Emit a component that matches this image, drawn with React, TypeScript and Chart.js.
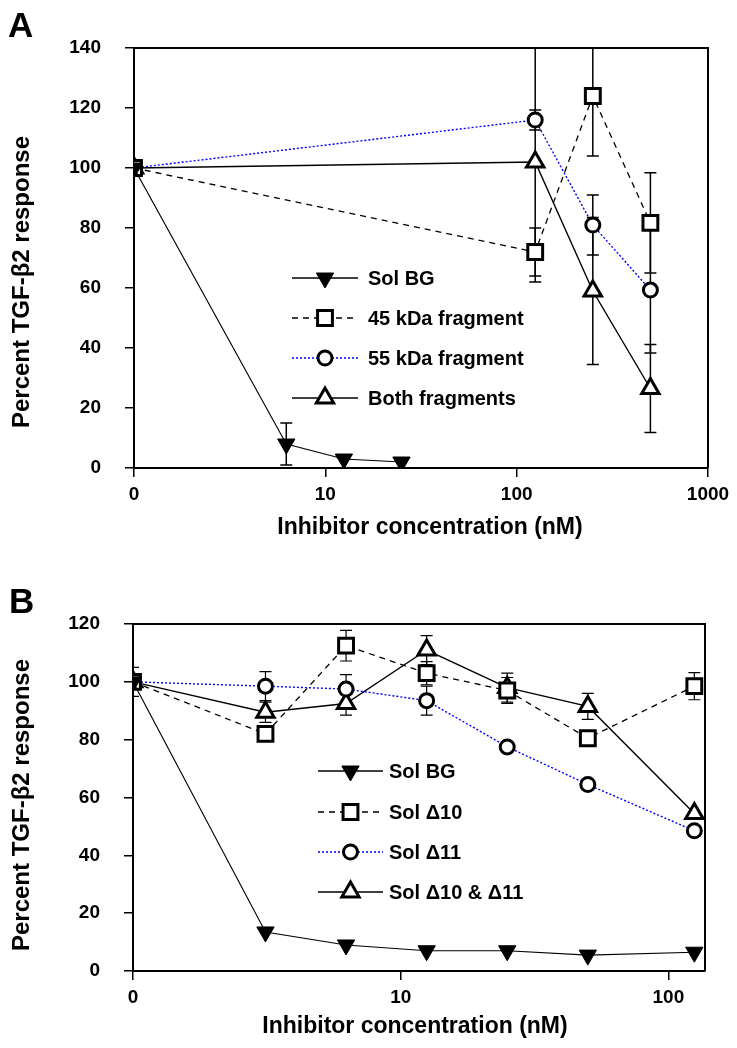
import React, { useEffect, useRef } from 'react';
import { Chart, registerables } from 'chart.js';

Chart.register(...registerables);

const FONT = '"Liberation Sans", Arial, Helvetica, sans-serif';

// ---------- Panel A data ----------
const concA_BG = [0, 6.25, 12.5, 25];
const solBG_A = [100, 8, 3, 2];
const solBG_A_err = [0, 7, 0, 0];
const concA_frag = [0, 125, 250, 500];
const kDa45_A = [100, 72, 124, 81.7];
const kDa45_A_err = [0, 8, 20, 16.7];
const kDa55_A = [100, 116, 81, 59.3];
const kDa55_A_err = [0, 3.3, 10, 21];
const both_A = [100, 102, 59, 26.5];
const both_A_err = [0, 40, 24.5, 14.7];
const seriesNamesA = ['Sol BG', '45 kDa fragment', '55 kDa fragment', 'Both fragments'];
const xTickValuesA = [0, 10, 100, 1000];
const xTickLabelsA = ['0', '10', '100', '1000'];

// ---------- Panel B data ----------
const concB = [0, 3.125, 6.25, 12.5, 25, 50, 125];
const solBG_B = [100, 13.5, 9, 7, 7, 5.5, 6.5];
const solBG_B_err = [0, 0, 0, 0, 0, 0, 0];
const d10_B = [100, 82, 112.5, 103, 97, 80.5, 98.5];
const d10_B_err = [5, 2, 5.3, 4, 4.5, 0, 4.7];
const d11_B = [100, 98.5, 97.5, 93.5, 77.5, 64.5, 48.5];
const d11_B_err = [0, 5, 5, 5, 0, 0, 0];
const d1011_B = [100, 89.5, 92.5, 111, 98, 91.5, 54.5];
const d1011_B_err = [0, 3.5, 4, 5, 5, 4.5, 0];
const seriesNamesB = ['Sol BG', 'Sol \u039410', 'Sol \u039411', 'Sol \u039410 & \u039411'];
const xTickValuesB = [0, 10, 100];
const xTickLabelsB = ['0', '10', '100'];

const ZERO_AT = 1; // position on log axis where concentration 0 is drawn

const STYLE_BG = { pointStyle: 'triangle', rotation: 180, radius: 10, fill: '#000', border: '#000', borderWidth: 1, line: '#000', lineWidth: 1.1, dash: [] as number[] };
const STYLE_SQ = { pointStyle: 'rect', rotation: 0, radius: 10.5, fill: '#fff', border: '#000', borderWidth: 3, line: '#000', lineWidth: 1.3, dash: [6, 5] };
const STYLE_CI = { pointStyle: 'circle', rotation: 0, radius: 7, fill: '#fff', border: '#000', borderWidth: 3, line: '#0000ff', lineWidth: 1.4, dash: [2, 2] };
const STYLE_TR = { pointStyle: 'triangle', rotation: 0, radius: 10, fill: '#fff', border: '#000', borderWidth: 3, line: '#000', lineWidth: 1.4, dash: [] as number[] };

function toPoints(xs: number[], ys: number[]) {
  return xs.map((x, i) => ({ x: x === 0 ? ZERO_AT : x, y: ys[i] }));
}

function makeDataset(label: string, xs: number[], ys: number[], errs: number[], st: any) {
  return {
    label,
    data: toPoints(xs, ys),
    errors: errs,
    borderColor: st.line,
    borderWidth: st.lineWidth,
    borderDash: st.dash,
    tension: 0,
    fill: false,
    pointStyle: st.pointStyle,
    pointRotation: st.rotation,
    pointRadius: st.radius,
    pointHoverRadius: st.radius,
    pointBackgroundColor: st.fill,
    pointBorderColor: st.border,
    pointBorderWidth: st.borderWidth,
    markerStyle: st,
  };
}

function drawMarker(ctx: CanvasRenderingContext2D, st: any, x: number, y: number) {
  const r = st.radius;
  ctx.save();
  ctx.lineWidth = st.borderWidth;
  ctx.strokeStyle = st.border;
  ctx.fillStyle = st.fill;
  ctx.setLineDash([]);
  ctx.beginPath();
  if (st.pointStyle === 'rect') {
    const s = r * Math.SQRT1_2;
    ctx.rect(x - s, y - s, 2 * s, 2 * s);
  } else if (st.pointStyle === 'circle') {
    ctx.arc(x, y, r, 0, Math.PI * 2);
  } else {
    let rad = (st.rotation * Math.PI) / 180;
    ctx.moveTo(x + Math.sin(rad) * r, y - Math.cos(rad) * r);
    rad += (2 * Math.PI) / 3;
    ctx.lineTo(x + Math.sin(rad) * r, y - Math.cos(rad) * r);
    rad += (2 * Math.PI) / 3;
    ctx.lineTo(x + Math.sin(rad) * r, y - Math.cos(rad) * r);
    ctx.closePath();
  }
  ctx.fill();
  ctx.stroke();
  ctx.restore();
}

const framePlugin = {
  id: 'frame',
  afterDraw(chart: any) {
    const { ctx, chartArea } = chart;
    ctx.save();
    ctx.strokeStyle = '#000';
    ctx.lineWidth = 2;
    ctx.beginPath();
    ctx.moveTo(chartArea.left, chartArea.top);
    ctx.lineTo(chartArea.right, chartArea.top);
    ctx.lineTo(chartArea.right, chartArea.bottom);
    ctx.stroke();
    ctx.restore();
  },
};

function makeErrorPlugin(lineWidth: number, cap: number) {
  return {
    id: 'errorBars',
    beforeDatasetsDraw(chart: any) {
      const { ctx, chartArea, scales } = chart;
      ctx.save();
      ctx.beginPath();
      ctx.rect(chartArea.left, chartArea.top, chartArea.right - chartArea.left, chartArea.bottom - chartArea.top + 12);
      ctx.clip();
      ctx.strokeStyle = '#000';
      ctx.lineWidth = lineWidth;
      ctx.setLineDash([]);
      chart.data.datasets.forEach((ds: any) => {
        const errs = ds.errors || [];
        ds.data.forEach((p: any, j: number) => {
          const e = errs[j];
          if (!e) return;
          const px = scales.x.getPixelForValue(p.x);
          const yTop = scales.y.getPixelForValue(p.y + e);
          const yBot = scales.y.getPixelForValue(p.y - e);
          ctx.beginPath();
          ctx.moveTo(px, yTop);
          ctx.lineTo(px, yBot);
          ctx.moveTo(px - cap, yTop);
          ctx.lineTo(px + cap, yTop);
          ctx.moveTo(px - cap, yBot);
          ctx.lineTo(px + cap, yBot);
          ctx.stroke();
        });
      });
      ctx.restore();
    },
  };
}

function makeLegendPlugin(lineX0: number, lineX1: number, textX: number, rowYs: number[]) {
  return {
    id: 'sketchLegend',
    afterDraw(chart: any) {
      const { ctx } = chart;
      chart.data.datasets.forEach((ds: any, i: number) => {
        const st = ds.markerStyle;
        const y = rowYs[i];
        ctx.save();
        ctx.strokeStyle = st.line;
        ctx.lineWidth = Math.max(st.lineWidth, 1.5);
        ctx.setLineDash(st.dash);
        ctx.beginPath();
        ctx.moveTo(lineX0, y);
        ctx.lineTo(lineX1, y);
        ctx.stroke();
        ctx.restore();
        drawMarker(ctx, st, (lineX0 + lineX1) / 2, y);
        ctx.save();
        ctx.fillStyle = '#000';
        ctx.font = `bold 20px ${FONT}`;
        ctx.textAlign = 'left';
        ctx.textBaseline = 'middle';
        ctx.fillText(ds.label, textX, y + 1);
        ctx.restore();
      });
    },
  };
}

function makeTextPlugin(letter: string, letterX: number, letterY: number, yTitle: string, yTitleX: number, yTitleY: number, xTitle: string, xTitleX: number, xTitleY: number) {
  return {
    id: 'sketchTexts',
    afterDraw(chart: any) {
      const { ctx } = chart;
      ctx.save();
      ctx.fillStyle = '#000';
      ctx.font = `bold 35px ${FONT}`;
      ctx.textAlign = 'left';
      ctx.textBaseline = 'alphabetic';
      ctx.fillText(letter, letterX, letterY);
      ctx.font = `bold 23px ${FONT}`;
      ctx.textAlign = 'center';
      ctx.textBaseline = 'middle';
      ctx.fillText(xTitle, xTitleX, xTitleY);
      ctx.font = `bold 24px ${FONT}`;
      ctx.translate(yTitleX, yTitleY);
      ctx.rotate(-Math.PI / 2);
      ctx.fillText(yTitle, 0, 0);
      ctx.restore();
    },
  };
}

function buildConfig(p: any) {
  const tickFont = { family: FONT, size: 19, weight: 'bold' as const };
  return {
    type: 'line' as const,
    data: { datasets: p.datasets },
    plugins: [framePlugin, makeErrorPlugin(p.errLine, p.cap), makeLegendPlugin(p.legX0, p.legX1, p.legText, p.legRows), p.texts],
    options: {
      responsive: false,
      animation: false,
      events: [],
      layout: { padding: { left: 0, top: p.padTop, right: p.padRight, bottom: 0 } },
      plugins: { legend: { display: false }, tooltip: { enabled: false }, title: { display: false } },
      scales: {
        x: {
          type: 'logarithmic',
          min: ZERO_AT,
          max: p.xMax,
          afterBuildTicks: (s: any) => {
            s.ticks = p.xTickValues.map((v: number) => ({ value: v === 0 ? ZERO_AT : v }));
          },
          afterFit: (s: any) => {
            s.height = p.xScaleHeight;
          },
          ticks: {
            autoSkip: false,
            maxRotation: 0,
            padding: 6,
            color: '#000',
            font: tickFont,
            callback: (_v: any, i: number) => p.xTickLabels[i],
          },
          grid: { drawOnChartArea: false, drawTicks: true, tickLength: 9, color: '#000', lineWidth: 1.5 },
          border: { display: true, color: '#000', width: 2 },
        },
        y: {
          type: 'linear',
          min: 0,
          max: p.yMax,
          afterFit: (s: any) => {
            s.width = p.yScaleWidth;
          },
          ticks: { stepSize: 20, padding: 24, color: '#000', font: tickFont },
          grid: { drawOnChartArea: false, drawTicks: true, tickLength: 9, color: '#000', lineWidth: 1.5 },
          border: { display: true, color: '#000', width: 2 },
        },
      },
    },
  };
}

const panelA = {
  datasets: [
    makeDataset(seriesNamesA[0], concA_BG, solBG_A, solBG_A_err, STYLE_BG),
    makeDataset(seriesNamesA[1], concA_frag, kDa45_A, kDa45_A_err, STYLE_SQ),
    makeDataset(seriesNamesA[2], concA_frag, kDa55_A, kDa55_A_err, STYLE_CI),
    makeDataset(seriesNamesA[3], concA_frag, both_A, both_A_err, STYLE_TR),
  ],
  xMax: 1000,
  yMax: 140,
  xTickValues: xTickValuesA,
  xTickLabels: xTickLabelsA,
  padTop: 48,
  padRight: 29,
  yScaleWidth: 134,
  xScaleHeight: 72,
  errLine: 1.5,
  cap: 6,
  legX0: 292,
  legX1: 358,
  legText: 368,
  legRows: [278, 318, 358, 398],
  texts: makeTextPlugin('A', 8, 37, 'Percent TGF-\u03B22 response', 22, 282, 'Inhibitor concentration (nM)', 430, 528),
};

const panelB = {
  datasets: [
    makeDataset(seriesNamesB[0], concB, solBG_B, solBG_B_err, STYLE_BG),
    makeDataset(seriesNamesB[1], concB, d10_B, d10_B_err, STYLE_SQ),
    makeDataset(seriesNamesB[2], concB, d11_B, d11_B_err, STYLE_CI),
    makeDataset(seriesNamesB[3], concB, d1011_B, d1011_B_err, STYLE_TR),
  ],
  xMax: 137,
  yMax: 120,
  xTickValues: xTickValuesB,
  xTickLabels: xTickLabelsB,
  padTop: 84,
  padRight: 32,
  yScaleWidth: 133,
  xScaleHeight: 77,
  errLine: 1.2,
  cap: 6,
  legX0: 318,
  legX1: 383,
  legText: 389,
  legRows: [231, 272, 312, 352],
  texts: makeTextPlugin('B', 9, 73, 'Percent TGF-\u03B22 response', 22, 265, 'Inhibitor concentration (nM)', 415, 487),
};

function Panel({ cfg, width, height, top }: { cfg: any; width: number; height: number; top: number }) {
  const ref = useRef<HTMLCanvasElement | null>(null);
  useEffect(() => {
    if (!ref.current) return;
    const chart = new Chart(ref.current, buildConfig(cfg) as any);
    return () => chart.destroy();
  }, [cfg]);
  return (
    <canvas
      ref={ref}
      width={width}
      height={height}
      style={{ position: 'absolute', left: 0, top, width, height }}
    />
  );
}

export default function App() {
  return (
    <div style={{ position: 'fixed', left: 0, top: 0, width: 737, height: 1048, background: '#fff' }}>
      <Panel cfg={panelA} width={737} height={540} top={0} />
      <Panel cfg={panelB} width={737} height={508} top={540} />
    </div>
  );
}
